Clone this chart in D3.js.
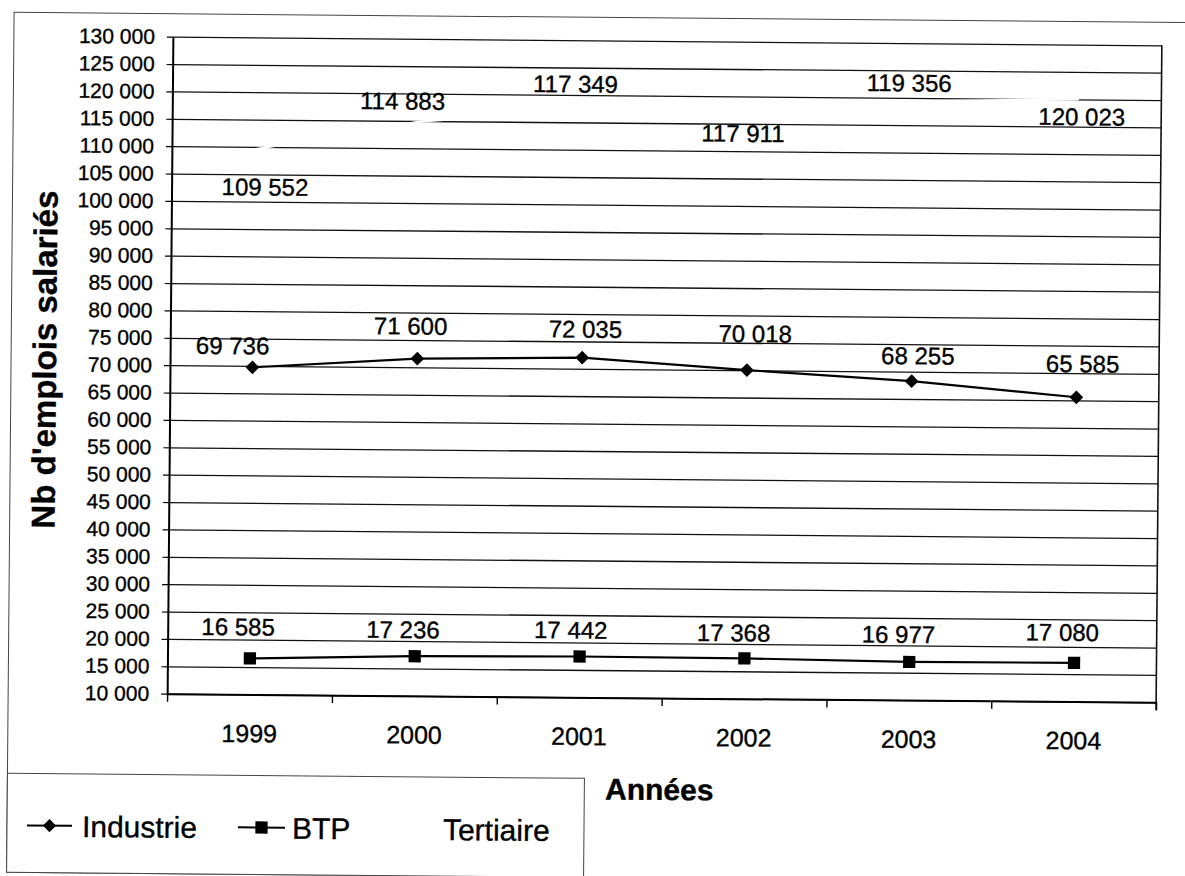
<!DOCTYPE html>
<html>
<head>
<meta charset="utf-8">
<script src="https://cdn.jsdelivr.net/npm/d3@7"></script>
<style>
  body { margin: 0; background: #fff; }
  svg { display: block; }
  text { font-family: "Liberation Sans", Arial, sans-serif; fill: #000; stroke: #000; stroke-width: 0.35px; }
</style>
</head>
<body>
<svg id="chart" width="1185" height="876"></svg>
<script>
// Salaried jobs by sector, 1999-2004
const years = ["1999", "2000", "2001", "2002", "2003", "2004"];
const industrie = [69736, 71600, 72035, 70018, 68255, 65585];
const btp = [16585, 17236, 17442, 17368, 16977, 17080];
const tertiaire = [109552, 114883, 117349, 117911, 119356, 120023];
const yTickValues = d3.range(10000, 130001, 5000);
const legendLabels = ["Industrie", "BTP", "Tertiaire"];

// Hand-placed data label nudges (dx, baseline dy) relative to each point
const industrieLabelNudge = [[-20, -13], [-7, -24], [3, -20], [8, -28], [6, -17], [6, -25]];
const btpLabelNudge = [[-12, -23], [-12, -18], [-9, -18], [-11, -17], [-11, -19], [-12, -22]];
const tertiaireLabelNudge = [[11, 46], [-17, -12], [-9, -17], [-6, 34], [-5, -10], [3, 26]];

const fr = d3.formatLocale({ decimal: ",", thousands: " ", grouping: [3], currency: ["", " €"] });
const fmt = fr.format(",");

const plot = { left: 170, right: 1159, top: 41, bottom: 698 };
const svg = d3.select("#chart");
const root = svg.append("g").attr("transform", "rotate(0.5, 664.5, 369.4)");

// outer frame
root.append("rect").attr("x", 11).attr("y", 18).attr("width", 1200).attr("height", 860)
  .attr("fill", "none").attr("stroke", "#444").attr("stroke-width", 1);

const x = d3.scaleBand().domain(years).range([plot.left, plot.right]);
const xEdges = d3.scaleLinear().domain([0, years.length]).range([plot.left, plot.right]);
const y = d3.scaleLinear().domain([10000, 130000]).range([plot.bottom, plot.top]);

// horizontal gridlines
root.append("g")
  .attr("transform", `translate(${plot.left},0)`)
  .call(d3.axisLeft(y).tickValues(yTickValues).tickSize(-(plot.right - plot.left)).tickFormat(""))
  .call(g => g.select(".domain").remove())
  .call(g => g.selectAll("line").attr("stroke", "#111").attr("stroke-width", 1.3));

// right border of the plot area
root.append("line")
  .attr("x1", plot.right).attr("x2", plot.right)
  .attr("y1", plot.top).attr("y2", plot.bottom + 8)
  .attr("stroke", "#111").attr("stroke-width", 1.6);

// y axis with labels
const yAxis = root.append("g")
  .attr("transform", `translate(${plot.left},0)`)
  .call(d3.axisLeft(y).tickValues(yTickValues).tickSize(6).tickPadding(12).tickFormat(fmt).tickSizeOuter(0));
yAxis.select(".domain").attr("stroke", "#000").attr("stroke-width", 2);
yAxis.selectAll("line").attr("stroke", "#000").attr("stroke-width", 1.2);
yAxis.selectAll("text").attr("font-size", 21).attr("font-family", "Liberation Sans, Arial, sans-serif");

// x axis: ticks between categories
const xAxis = root.append("g")
  .attr("transform", `translate(0,${plot.bottom})`)
  .call(d3.axisBottom(xEdges).ticks(years.length).tickSize(8).tickFormat("").tickSizeOuter(0));
xAxis.select(".domain").attr("stroke", "#000").attr("stroke-width", 2);
xAxis.selectAll("line").attr("stroke", "#000").attr("stroke-width", 1.4);

// category labels
const xLabels = root.append("g")
  .attr("transform", `translate(0,${plot.bottom})`)
  .call(d3.axisBottom(x).tickSize(0).tickPadding(30));
xLabels.select(".domain").remove();
xLabels.selectAll("text").attr("font-size", 25).attr("font-family", "Liberation Sans, Arial, sans-serif");

const cx = (d, i) => x(years[i]) + x.bandwidth() / 2;
const line = d3.line().x((d, i) => x(years[i]) + x.bandwidth() / 2).y(d => y(d));

// Tertiaire: white line drawn over the grid
root.append("path").datum(tertiaire)
  .attr("d", line).attr("fill", "none").attr("stroke", "#fff").attr("stroke-width", 2.5);

// Industrie
root.append("path").datum(industrie)
  .attr("d", line).attr("fill", "none").attr("stroke", "#000").attr("stroke-width", 2.2);
const diamond = d3.symbol().type(d3.symbolDiamond2).size(120);
root.append("g").selectAll("path").data(industrie).join("path")
  .attr("d", diamond)
  .attr("transform", (d, i) => `translate(${cx(d, i)},${y(d)})`)
  .attr("fill", "#000");

// BTP
root.append("path").datum(btp)
  .attr("d", line).attr("fill", "none").attr("stroke", "#000").attr("stroke-width", 2.2);
const square = d3.symbol().type(d3.symbolSquare).size(150);
root.append("g").selectAll("path").data(btp).join("path")
  .attr("d", square)
  .attr("transform", (d, i) => `translate(${cx(d, i)},${y(d)})`)
  .attr("fill", "#000");

// data labels
function labels(values, nudge) {
  root.append("g").selectAll("text").data(values).join("text")
    .attr("x", (d, i) => cx(d, i) + nudge[i][0])
    .attr("y", (d, i) => y(d) + nudge[i][1])
    .attr("text-anchor", "middle")
    .attr("font-size", 24)
    .text(d => fmt(d));
}
labels(industrie, industrieLabelNudge);
labels(btp, btpLabelNudge);
labels(tertiaire, tertiaireLabelNudge);

// axis titles
root.append("text")
  .attr("transform", "translate(56,365) rotate(-90)")
  .attr("text-anchor", "middle")
  .attr("font-size", 33).attr("font-weight", "bold")
  .text("Nb d'emplois salariés");
root.append("text")
  .attr("x", 663).attr("y", 800)
  .attr("text-anchor", "middle")
  .attr("font-size", 30).attr("font-weight", "bold")
  .text("Années");

// legend box and entries
root.append("rect").attr("x", 11).attr("y", 779).attr("width", 577).attr("height", 99)
  .attr("fill", "#fff").attr("stroke", "#444").attr("stroke-width", 1);
const legendDiamond = d3.symbol().type(d3.symbolDiamond2).size(110);
const legendItems = [
  { name: legendLabels[0], x0: 31, x1: 76, sym: legendDiamond, color: "#000", tx: 86 },
  { name: legendLabels[1], x0: 242, x1: 289, sym: square, color: "#000", tx: 296 },
  { name: legendLabels[2], x0: 392, x1: 437, sym: null, color: "#fff", tx: 447 }
];
const lg = root.append("g").selectAll("g").data(legendItems).join("g");
lg.append("line")
  .attr("x1", d => d.x0).attr("x2", d => d.x1)
  .attr("y1", 831).attr("y2", 831)
  .attr("stroke", d => d.color).attr("stroke-width", 2);
lg.filter(d => d.sym).append("path")
  .attr("d", d => d.sym())
  .attr("transform", d => `translate(${(d.x0 + d.x1) / 2},831)`)
  .attr("fill", "#000");
lg.append("text")
  .attr("x", d => d.tx).attr("y", 842)
  .attr("font-size", 30)
  .text(d => d.name);
</script>
</body>
</html>
